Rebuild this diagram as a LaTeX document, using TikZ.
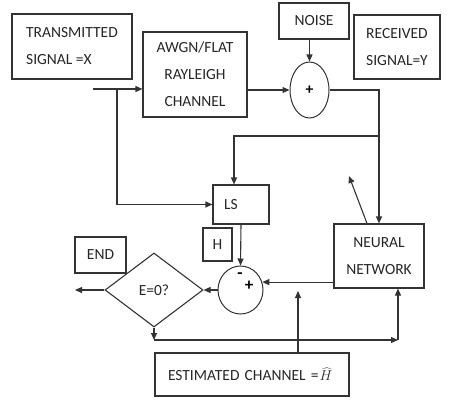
\documentclass[tikz,border=0pt]{standalone}
\usepackage{fontspec}
\setmainfont{Carlito}
\usetikzlibrary{arrows.meta,positioning,shapes.geometric}

\begin{document}
\begin{tikzpicture}[
    x=1pt, y=-1pt,
    >={Triangle[length=7pt,width=6pt]},
    font=\fontsize{15.5}{27}\selectfont,
    box/.style={
        draw=black!80,
        line width=1.1pt,
        align=center,
        inner sep=0pt,
        text=black!85
    },
    sumnode/.style={
        draw=black!80,
        ellipse,
        line width=1pt,
        inner sep=0pt
    },
    arr/.style={->, line width=1.1pt, draw=black!80}
]
\useasboundingbox (0,0) rectangle (455,404);

% top row
\node[box, minimum width=120pt, minimum height=65pt, align=left] (tx) at (72,46.5)
{TRANSMITTED\\SIGNAL =X};
\node[box, minimum width=104pt, minimum height=85pt] (chan) at (195,74.5)
{AWGN/FLAT\\RAYLEIGH\\CHANNEL};
\node[box, minimum width=70pt, minimum height=36pt] (noise) at (314,21) {NOISE};
\node[sumnode, minimum width=39pt, minimum height=56pt] (add) at (309.5,90) {\raisebox{-4pt}{\textbf{+}}};
\node[box, minimum width=86pt, minimum height=64pt, align=left] (rx) at (397,47)
{RECEIVED\\SIGNAL=Y};

% middle row
\node[box, minimum width=56pt, minimum height=39pt, text width=34pt, align=left] (ls) at (241,204.5) {LS};
\node[box, minimum width=29pt, minimum height=33pt] (hb) at (217.5,244.5) {H};
\node[sumnode, minimum width=45pt, minimum height=48pt] (diff) at (240.5,290) {};
\node[font=\fontsize{17}{18}\bfseries] (minus) at (240,276) {-};
\node[font=\fontsize{17}{18}\bfseries] (plus) at (249,286) {+};
\node[box, minimum width=90pt, minimum height=64pt] (nn) at (379,256) {NEURAL\\NETWORK};

% bottom row
\node[box, diamond, minimum width=98pt, minimum height=74pt] (test) at (154,290) {E=0?};
\node[box, minimum width=51pt, minimum height=36pt] (stop) at (100.5,255) {END};
\node[box, minimum width=194pt, minimum height=43pt, text width=168pt, align=left] (est) at (252,374.5)
{ESTIMATED CHANNEL =\kern1pt$\widehat{H}$};

% connector points
\coordinate (txout) at (93,89);
\coordinate (tap) at (117,89);
\coordinate (split) at (379,136);
\coordinate (nnup) at (349,176);
\coordinate (hatin) at (298,291);
\coordinate (endout) at (75,290);
\coordinate (loopa) at (154,340);
\coordinate (loopb) at (398,340);

\draw[arr] (txout) -- (txout -| chan.west);
\draw[arr] (tap) |- (ls.west);
\draw[arr] (chan.east |- add.west) -- (add.west);
\draw[arr] (add.north |- noise.south) -- (add.north);
\draw[arr] (add.east) -| (nn.north);
\draw[arr] (split) -| ([xshift=-7pt]ls.north);
\draw[arr] (ls.south) -- (diff.north);
\draw[arr] (nn.west |- diff.20) -- (diff.20);
\draw[arr] ([xshift=-12pt]nn.north) -- (nnup);
\draw[arr] (diff.west) -- (test.east);
\draw[arr] (test.west) -- (endout);
\draw[arr] (test.south) -- (loopa);
\draw[arr] (loopa) -- (loopb);
\draw[arr] (loopb) -- (loopb |- nn.south);
\draw[arr] (est.north -| hatin) -- (hatin);

\end{tikzpicture}
\end{document}
